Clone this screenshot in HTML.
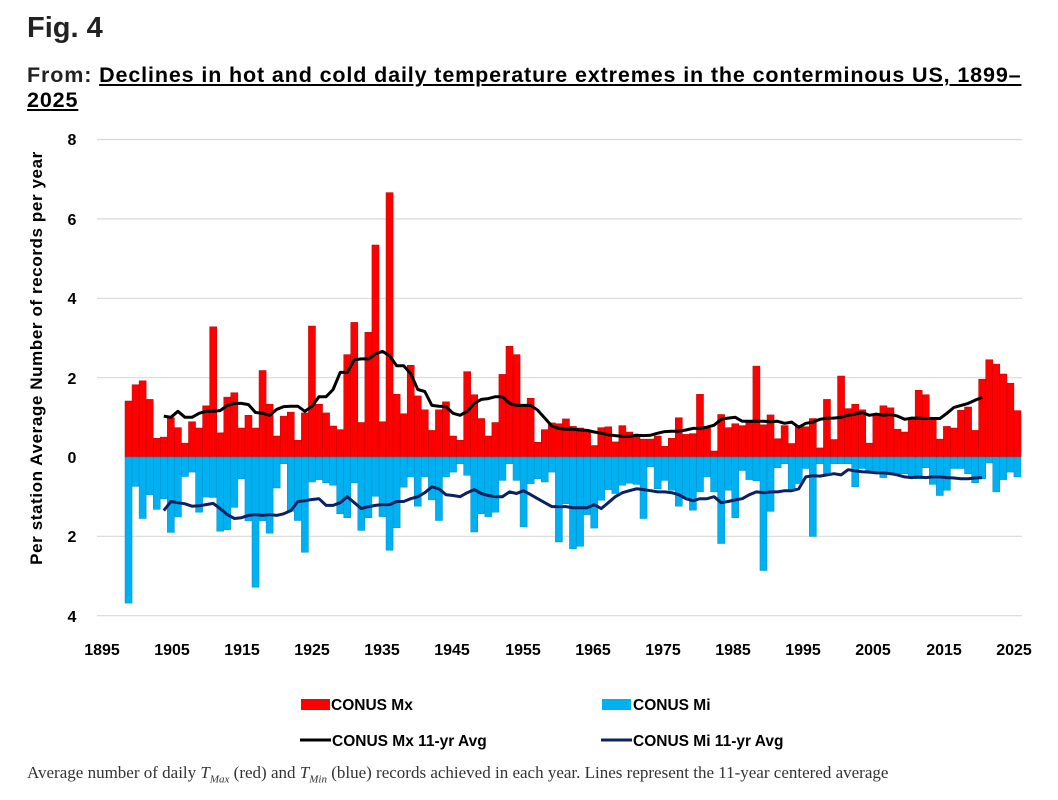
<!DOCTYPE html>
<html><head><meta charset="utf-8"><style>
body{margin:0;background:#fff;width:1058px;height:800px;overflow:hidden;position:relative;font-family:"Liberation Sans",sans-serif;}
.t{position:absolute;white-space:nowrap;}
</style></head><body>
<div class="t" style="left:27px;top:12px;font-size:29px;font-weight:bold;color:#222;">Fig. 4</div>
<div class="t" style="left:27px;top:63px;font-size:21.5px;letter-spacing:0.87px;font-weight:bold;color:#222;line-height:25px;">From: <span style="text-decoration:underline;color:#000">Declines in hot and cold daily temperature extremes in the conterminous US, 1899–</span><br><span style="text-decoration:underline;color:#000">2025</span></div>
<svg id="c" width="1058" height="800" style="position:absolute;left:0;top:0" font-family="Liberation Sans, sans-serif">
<g stroke="#d9d9d9" stroke-width="1.2">
<line x1="97" x2="1022" y1="139.5" y2="139.5"/><line x1="97" x2="1022" y1="218.9" y2="218.9"/><line x1="97" x2="1022" y1="298.3" y2="298.3"/><line x1="97" x2="1022" y1="377.7" y2="377.7"/><line x1="97" x2="1022" y1="536.3" y2="536.3"/><line x1="97" x2="1022" y1="615.7" y2="615.7"/>
</g>
<g font-size="16" font-weight="bold" fill="#000" text-anchor="middle">
<text x="72" y="145">8</text><text x="72" y="225">6</text><text x="72" y="304">4</text><text x="72" y="384">2</text><text x="72" y="463">0</text><text x="72" y="542">2</text><text x="72" y="622">4</text>
<text x="102" y="655">1895</text><text x="172" y="655">1905</text><text x="242" y="655">1915</text><text x="312" y="655">1925</text><text x="382" y="655">1935</text><text x="452" y="655">1945</text><text x="523" y="655">1955</text><text x="593" y="655">1965</text><text x="663" y="655">1975</text><text x="733" y="655">1985</text><text x="803" y="655">1995</text><text x="873" y="655">2005</text><text x="944" y="655">2015</text><text x="1014" y="655">2025</text>
</g>
<text transform="translate(42,358) rotate(-90)" font-size="17" letter-spacing="0.6" font-weight="bold" text-anchor="middle">Per station Average Number of records per year</text>
<g id="bars"></g>
<g font-size="15.5" font-weight="bold">
<rect x="301" y="699" width="29" height="11" fill="#ff0000"/><text x="331" y="710">CONUS Mx</text>
<rect x="602" y="699" width="29" height="11" fill="#00b0f0"/><text x="633" y="710">CONUS Mi</text>
<line x1="300" x2="331" y1="740" y2="740" stroke="#000" stroke-width="3"/><text x="332" y="746">CONUS Mx 11-yr Avg</text>
<line x1="601" x2="632" y1="740" y2="740" stroke="#0d2060" stroke-width="3"/><text x="633" y="746">CONUS Mi 11-yr Avg</text>
</g>
</svg>
<div class="t" style="left:27px;top:763px;font-family:'Liberation Serif',serif;font-size:17px;color:#333;">Average number of daily <i>T<sub style="font-size:11px">Max</sub></i> (red) and <i>T<sub style="font-size:11px">Min</sub></i> (blue) records achieved in each year. Lines represent the 11-year centered average</div>
<script>
var red=[1.41,1.82,1.92,1.45,0.47,0.50,0.99,0.74,0.35,0.89,0.73,1.29,3.28,0.61,1.51,1.62,0.73,1.05,0.73,2.18,1.33,0.53,1.03,1.13,0.42,1.11,3.30,1.33,1.11,0.78,0.69,2.58,3.39,0.87,3.14,5.34,0.89,6.66,1.58,1.09,2.31,1.54,1.19,0.67,1.19,1.39,0.53,0.42,2.15,1.57,0.97,0.53,0.87,2.08,2.79,2.58,1.28,1.48,0.37,0.69,0.86,0.84,0.96,0.77,0.73,0.66,0.29,0.74,0.76,0.38,0.79,0.63,0.54,0.45,0.45,0.53,0.27,0.47,0.99,0.57,0.59,1.58,0.73,0.15,1.07,0.74,0.84,0.79,0.87,2.29,0.81,1.06,0.46,0.79,0.34,0.76,0.76,0.97,0.23,1.45,0.44,2.04,1.22,1.33,1.19,0.35,1.05,1.29,1.24,0.70,0.63,0.97,1.68,1.57,0.95,0.45,0.77,0.73,1.18,1.26,0.67,1.96,2.45,2.34,2.09,1.86,1.17];
var blue=[3.68,0.74,1.55,0.95,1.32,1.05,1.90,1.51,0.49,0.38,1.39,1.01,1.02,1.87,1.83,1.27,0.55,1.61,3.28,1.61,1.92,0.78,0.17,1.37,1.60,2.40,0.63,0.57,0.65,0.71,1.43,1.53,0.65,1.85,1.53,0.99,1.5,2.35,1.78,0.76,0.5,1.24,0.5,1.08,1.6,0.5,0.38,0.17,0.46,1.89,1.43,1.5,1.39,0.59,0.17,0.59,1.76,0.67,0.55,0.63,0.38,2.14,1.18,2.31,2.25,1.45,1.79,1.09,0.82,0.92,0.71,0.66,0.69,1.55,0.25,0.8,0.59,0.84,1.24,1.05,1.34,0.88,0.5,0.88,2.18,0.84,1.53,0.34,0.57,0.6,2.86,1.37,0.27,0.17,0.84,0.67,0.29,2.0,0.17,0.42,0.17,0.17,0.17,0.75,0.29,0.34,0.42,0.52,0.42,0.42,0.42,0.5,0.55,0.27,0.69,0.97,0.84,0.29,0.29,0.42,0.65,0.55,0.15,0.88,0.57,0.38,0.5,0.69];
var blk=[1.03,1.0,1.15,1.0,1.0,1.1,1.15,1.15,1.17,1.3,1.35,1.35,1.32,1.12,1.1,1.05,1.2,1.27,1.28,1.28,1.15,1.28,1.52,1.52,1.7,2.13,2.13,2.45,2.47,2.47,2.6,2.66,2.55,2.3,2.3,2.1,1.7,1.65,1.3,1.28,1.27,1.1,1.05,1.15,1.35,1.45,1.47,1.52,1.52,1.35,1.3,1.3,1.3,1.18,0.98,0.78,0.72,0.7,0.7,0.68,0.67,0.63,0.6,0.56,0.54,0.52,0.52,0.55,0.54,0.55,0.6,0.64,0.65,0.65,0.68,0.72,0.72,0.75,0.8,0.95,0.98,1.0,0.9,0.9,0.9,0.9,0.89,0.9,0.85,0.88,0.75,0.85,0.88,0.95,0.98,0.98,1.0,1.05,1.08,1.12,1.05,1.08,1.05,1.07,1.03,0.95,0.98,0.98,0.97,0.97,0.97,1.1,1.25,1.3,1.35,1.43,1.5];
var nav=[1.35,1.12,1.15,1.18,1.24,1.23,1.2,1.17,1.3,1.45,1.55,1.53,1.47,1.45,1.47,1.45,1.47,1.43,1.35,1.12,1.1,1.07,1.05,1.22,1.22,1.15,1.0,1.15,1.3,1.25,1.22,1.2,1.2,1.12,1.12,1.05,1.0,0.9,0.75,0.8,0.95,0.97,1.0,0.9,0.82,0.92,0.97,1.0,1.0,0.88,0.92,0.85,0.95,1.05,1.15,1.25,1.25,1.25,1.28,1.28,1.28,1.2,1.3,1.15,1.0,0.9,0.85,0.8,0.82,0.85,0.88,0.88,0.9,0.95,1.05,1.1,1.05,1.05,1.0,1.15,1.12,1.08,1.05,0.95,0.88,0.9,0.88,0.88,0.85,0.85,0.8,0.5,0.47,0.48,0.45,0.42,0.45,0.32,0.35,0.37,0.38,0.4,0.4,0.42,0.45,0.5,0.52,0.5,0.52,0.5,0.5,0.52,0.53,0.55,0.55,0.53,0.52];
var Z=457,U=39.7,W=7.055,X0=125,s='';
for(var i=0;i<127;i++){var x=X0+i*W;
s+='<rect x="'+x.toFixed(2)+'" y="'+(Z-red[i]*U).toFixed(1)+'" width="'+W+'" height="'+(red[i]*U).toFixed(1)+'" fill="#ff0000" stroke="#c00000" stroke-width="0.5"/>';
s+='<rect x="'+x.toFixed(2)+'" y="'+Z+'" width="'+W+'" height="'+(blue[i]*U).toFixed(1)+'" fill="#00b0f0" stroke="#0090c8" stroke-width="0.5"/>';}
function pl(a,sg,c){var p=[];for(var j=0;j<a.length;j++){var x=X0+(j+5+0.5)*W;p.push(x.toFixed(1)+','+(Z-sg*a[j]*U).toFixed(1));}
return '<polyline points="'+p.join(' ')+'" fill="none" stroke="'+c+'" stroke-width="3" stroke-linejoin="round"/>';}
s+=pl(blk,1,'#000')+pl(nav,-1,'#0d2060');
document.getElementById('bars').innerHTML=s;
</script>
</body></html>
